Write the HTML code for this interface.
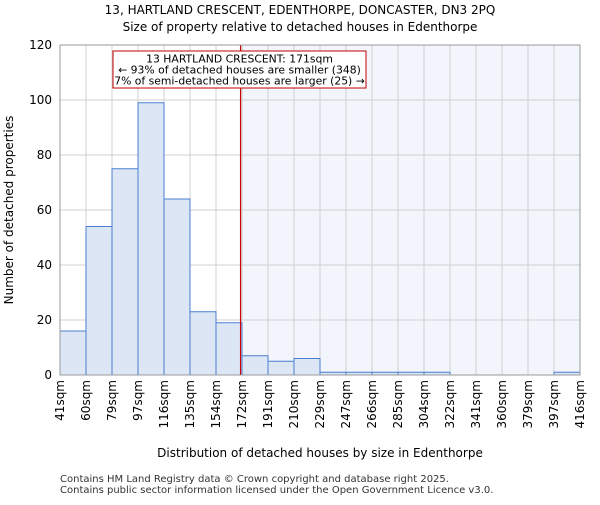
<!DOCTYPE html>
<html><head><meta charset="utf-8"><style>
body{margin:0;background:#fff}
svg{font-family:"DejaVu Sans","Liberation Sans",sans-serif}
</style></head><body>
<svg id="chart" width="600" height="500" xmlns="http://www.w3.org/2000/svg">
<text x="300" y="14" font-size="12" text-anchor="middle">13, HARTLAND CRESCENT, EDENTHORPE, DONCASTER, DN3 2PQ</text>
<text x="300" y="31" font-size="12" text-anchor="middle">Size of property relative to detached houses in Edenthorpe</text>
<g id="plot"></g>
<text x="320" y="457" font-size="12" text-anchor="middle">Distribution of detached houses by size in Edenthorpe</text>
<text transform="translate(13,210) rotate(-90)" font-size="12" text-anchor="middle">Number of detached properties</text>
<text x="60" y="482" font-size="10" fill="#333">Contains HM Land Registry data © Crown copyright and database right 2025.</text>
<text x="60" y="493" font-size="10" fill="#333">Contains public sector information licensed under the Open Government Licence v3.0.</text>
</svg>
<script>
const binLabels=["41sqm","60sqm","79sqm","97sqm","116sqm","135sqm","154sqm","172sqm","191sqm","210sqm","229sqm","247sqm","266sqm","285sqm","304sqm","322sqm","341sqm","360sqm","379sqm","397sqm","416sqm"];
const counts=[16,54,75,99,64,23,19,7,5,6,1,1,1,1,1,0,0,0,0,1];
const yTicks=[0,20,40,60,80,100,120];
const markerValue=171;
const NS="http://www.w3.org/2000/svg";
const L=60,R=580,T=45,B=375,yMax=120;
const bw=(R-L)/counts.length;
const xs=i=>L+i*bw;
const ys=v=>B-v/yMax*(B-T);
const edges=binLabels.map(s=>parseFloat(s));
function xv(v){for(let i=0;i<edges.length-1;i++){if(v>=edges[i]&&v<=edges[i+1])return xs(i)+(v-edges[i])/(edges[i+1]-edges[i])*bw;}return R;}
const g=document.getElementById('plot');
function mk(t,a){const e=document.createElementNS(NS,t);for(const k in a)e.setAttribute(k,a[k]);g.appendChild(e);return e;}
const mx=xv(markerValue);
let e=mk('rect',{x:mx,y:T,width:R-mx,height:B-T,fill:'#f2f5fc'});


yTicks.forEach(v=>{let l=mk('line',{x1:L,x2:R,y1:ys(v),y2:ys(v),stroke:'#d0d0d0'});


let t=mk('text',{x:L-8,y:ys(v)+4,'font-size':12,'text-anchor':'end'});t.textContent=v;

});
binLabels.forEach((s,i)=>{let l=mk('line',{x1:xs(i),x2:xs(i),y1:T,y2:B,stroke:'#d0d0d0'});


let t=mk('text',{transform:`translate(${xs(i)+4},${B+5}) rotate(-90)`,'font-size':12,'text-anchor':'end'});t.textContent=s;

});
counts.forEach((c,i)=>{if(c<=0)return;let r=mk('rect',{x:xs(i),y:ys(c),width:bw,height:B-ys(c),fill:'#dce6f5',stroke:'#4a7fd0','stroke-width':1});

});
e=mk('line',{x1:mx,x2:mx,y1:T,y2:B,stroke:'#cc0000','stroke-width':1.2});


e=mk('rect',{x:113,y:51,width:253,height:37,fill:'#fff',stroke:'#c00000'});


["13 HARTLAND CRESCENT: 171sqm","← 93% of detached houses are smaller (348)","7% of semi-detached houses are larger (25) →"].forEach((s,i)=>{let t=mk('text',{x:239.5,y:62.5+i*11,'font-size':10.8,'text-anchor':'middle'});t.textContent=s;

});
e=mk('rect',{x:L,y:T,width:R-L,height:B-T,fill:'none',stroke:'#999'});


</script>
</body></html>
